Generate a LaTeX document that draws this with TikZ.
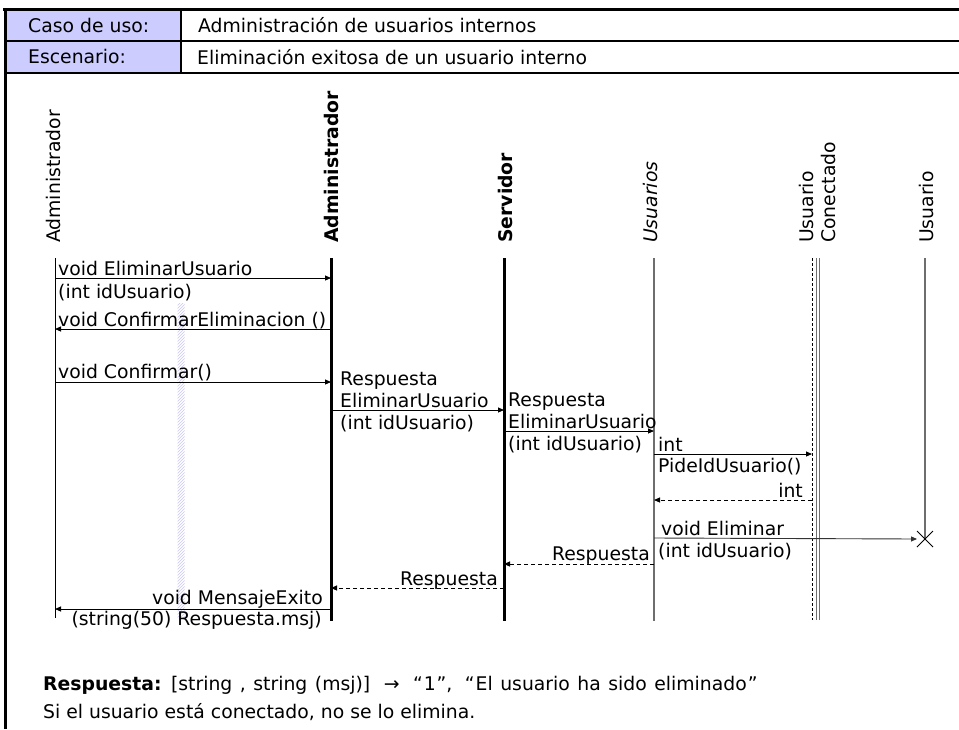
\documentclass[tikz,border=0pt]{standalone}
\usepackage{fontspec}
\setmainfont{DejaVu Sans}
\usetikzlibrary{arrows.meta,patterns}
\definecolor{cellblue}{HTML}{CCCCFF}
\definecolor{lifegray}{HTML}{6E6E6E}
\definecolor{hatchblue}{HTML}{C8C8F4}
\begin{document}
\begin{tikzpicture}[x=1pt,y=-1pt,
  txt/.style={inner sep=0pt, font=\fontsize{18.8}{22}\selectfont},
  head/.style={txt, rotate=90, anchor=base west},
  msg/.style={-{Triangle[length=6pt,width=5pt]}, line width=0.9pt},
  ret/.style={msg, dash pattern=on 4pt off 3pt},
  thinlife/.style={line width=0.9pt},
  thicklife/.style={line width=3pt},
  graylife/.style={line width=1.2pt, draw=lifegray},
  frame/.style={line width=2.5pt},
  rule/.style={line width=1.2pt}
]
\useasboundingbox (0,0) rectangle (959,729);

% ---------- header table ----------
\fill[cellblue] (5,10) rectangle (181,73);
\draw[rule] (5,41) -- (959,41);
\draw[rule] (5,73) -- (959,73);
\draw[rule] (181,10) -- (181,73);
\draw[line width=3pt] (3,9) -- (959,9);
\draw[frame] (5.5,9) -- (5.5,729);

\node[txt, anchor=base west] (caso) at (28,32) {Caso de uso:};
\node[txt, anchor=base west] (esc) at (28,63) {Escenario:};
\node[txt, anchor=base west] (casoval) at (198,32) {Administración de usuarios internos};
\node[txt, anchor=base west] (escval) at (197,64) {Eliminación exitosa de un usuario interno};

% ---------- lifeline heads ----------
\node[head] (hActor) at (60,243) {Administrador};
\node[head, font=\fontsize{18.8}{22}\selectfont\bfseries] (hAdmin) at (338,243) {Administrador};
\node[head, font=\fontsize{18.8}{22}\selectfont\bfseries] (hServ) at (512,243) {Servidor};
\node[head, font=\fontsize{18.8}{22}\selectfont\itshape] (hUsers) at (657,243) {Usuarios};
\node[head] (hConA) at (813,243) {Usuario};
\node[head] (hConB) at (835,243) {Conectado};
\node[head] (hUser) at (933,243) {Usuario};

% ---------- lifelines ----------
\coordinate (actor) at (55,258);   \coordinate (actorEnd) at (55,618);
\coordinate (admin) at (331,258);  \coordinate (adminEnd) at (331,621);
\coordinate (serv) at (504,258);   \coordinate (servEnd) at (504,621);
\coordinate (users) at (654,258);  \coordinate (usersEnd) at (654,621);
\coordinate (conn) at (812,258);   \coordinate (connEnd) at (812,620);
\coordinate (connA) at (816,258);  \coordinate (connAEnd) at (816,620);
\coordinate (connB) at (819,258);  \coordinate (connBEnd) at (819,620);
\coordinate (user) at (925,258);   \coordinate (userEnd) at (925,539);

% faint hatched strip
\fill[pattern=north east lines, pattern color=hatchblue] (177.5,303) rectangle (184.5,618);

\draw[thinlife] (actor) -- (actorEnd);
\draw[thicklife] (admin) -- (adminEnd);
\draw[thicklife] (serv) -- (servEnd);
\draw[graylife] (users) -- (usersEnd);
\draw[line width=0.8pt, dash pattern=on 3pt off 2pt] (conn) -- (connEnd);
\draw[graylife, line width=0.9pt] (connA) -- (connAEnd);
\draw[graylife, line width=0.9pt] (connB) -- (connBEnd);
\draw[graylife] (user) -- (userEnd);

% destruction mark
\draw[line width=0.9pt] (userEnd) ++(-8,-8) -- ++(16,16);
\draw[line width=0.9pt] (userEnd) ++(-8,8) -- ++(16,-16);

% ---------- messages ----------
\draw[msg] (actor |- 0,278) -- (admin |- 0,278);
\node[txt, anchor=base west] (m1a) at (58,275) {void EliminarUsuario};
\node[txt, anchor=base west] (m1b) at (58,298) {(int idUsuario)};

\draw[msg] (admin |- 0,329) -- (actor |- 0,329);
\node[txt, anchor=base west] (m2) at (58,326) {void ConfirmarEliminacion ()};

\draw[msg] (actor |- 0,382) -- (admin |- 0,382);
\node[txt, anchor=base west] (m3) at (58,378) {void Confirmar()};

\draw[msg] (admin |- 0,410) -- (serv |- 0,410);
\node[txt, anchor=base west] (m4a) at (340,385) {Respuesta};
\node[txt, anchor=base west] (m4b) at (340,407) {EliminarUsuario};
\node[txt, anchor=base west] (m4c) at (340,429) {(int idUsuario)};

\draw[msg] (serv |- 0,431) -- (users |- 0,431);
\node[txt, anchor=base west] (m5a) at (508,406) {Respuesta};
\node[txt, anchor=base west] (m5b) at (508,428) {EliminarUsuario};
\node[txt, anchor=base west] (m5c) at (508,450) {(int idUsuario)};

\draw[msg] (users |- 0,454) -- (conn |- 0,454);
\node[txt, anchor=base west] (m6a) at (658,451) {int};
\node[txt, anchor=base west] (m6b) at (658,472) {PideIdUsuario()};

\draw[ret] (conn |- 0,500) -- (users |- 0,500);
\node[txt, anchor=base east] (m7) at (803,497) {int};

\draw[msg, draw=black!80] (users |- 0,538) -- ([xshift=-8pt]userEnd);
\node[txt, anchor=base west] (m8a) at (661,535) {void Eliminar};
\node[txt, anchor=base west] (m8b) at (658,557) {(int idUsuario)};

\draw[ret] (users |- 0,564) -- (serv |- 0,564);
\node[txt, anchor=base east] (m9) at (650,560) {Respuesta};

\draw[ret] (serv |- 0,588) -- (admin |- 0,588);
\node[txt, anchor=base east] (m10) at (498,585) {Respuesta};

\draw[msg] (admin |- 0,609) -- (actor |- 0,609);
\node[txt, anchor=base east] (m11a) at (323,604) {void MensajeExito};
\node[txt, anchor=base east] (m11b) at (322,625) {(string(50) Respuesta.msj)};

% ---------- notes ----------
\node[txt, anchor=base west] (note1) at (43,690) {\spaceskip=0.4em\textbf{Respuesta:} [string , string (msj)]\hspace{6pt} → \hspace{6pt}“\hspace{1pt}1\hspace{1pt}”,\hspace{5pt} “\hspace{1pt}El usuario ha sido eliminado\hspace{1pt}”};
\node[txt, anchor=base west] (note2) at (43,718) {Si el usuario está conectado, no se lo elimina.};
\end{tikzpicture}
\end{document}
